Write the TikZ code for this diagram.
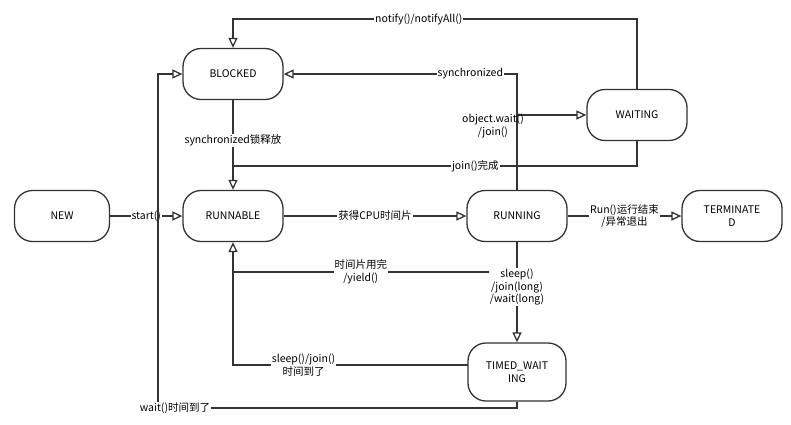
\documentclass[tikz,border=0pt]{standalone}
\usepackage{fontspec}
\setmainfont{Noto Sans CJK SC}
\usetikzlibrary{arrows.meta}
\begin{document}
\begin{tikzpicture}[x=1pt,y=-1pt,
  st/.style={draw=black!80,line width=1.3pt,rounded corners=18pt,minimum width=100pt,minimum height=51pt,align=center,font=\fontsize{10.5}{13}\selectfont,inner sep=2pt},
  ed/.style={draw=black!80,line width=1.3pt,-{Triangle[open,length=10pt,width=9pt]}},
  ln/.style={draw=black!80,line width=1.3pt},
  lb/.style={fill=white,inner sep=1pt,align=center,font=\fontsize{10.5}{12.5}\selectfont}]
\useasboundingbox (0,0) rectangle (791,424);
\node[st,minimum width=95pt] (new) at (62,216) {NEW};
\node[st] (blk) at (233,74) {BLOCKED};
\node[st] (rbl) at (233,216) {RUNNABLE};
\node[st] (run) at (517,216) {RUNNING};
\node[st] (term) at (732,216) {TERMINATE\\D};
\node[st] (wait) at (637,115) {WAITING};
\node[st,minimum width=98pt,minimum height=58pt] (tw) at (517,372) {TIMED\_WAIT\\ING};
% start
\draw[ed] (new) -- node[lb]{start()} (rbl);
% wait time up
\draw[ed] (tw.south) |- (158,408) |- (blk.west);
\node[lb] (wl) at (175,408) {wait()时间到了};
% notify
\draw[ed] (wait.north) |- node[lb,pos=0.77]{notify()/notifyAll()} (233,19) -- (blk.north);
% synchronized
\draw[ed] (run.north) |- node[lb,pos=0.6]{synchronized} (blk.east);
% object.wait
\coordinate (ow) at (517,115);
\draw[ed] (ow) -- (wait.west);
\node[lb,fill=none] (owl) at (493,126) {object.wait()\\/join()};
% lock release
\draw[ed] (blk.south) -- node[lb,pos=0.45]{synchronized锁释放} (rbl.north);
% join complete
\draw[ln] (wait.south) |- node[lb,pos=0.7]{join()完成} (233,166);
% cpu
\draw[ed] (rbl) -- node[lb]{获得CPU时间片} (run);
% terminate
\draw[ed] (run) -- node[lb]{Run()运行结束\\/异常退出} (term);
% yield
\draw[ed] (517,272) -- node[lb,pos=0.55]{时间片用完\\/yield()} (233,272) -- (rbl.south);
% sleep
\draw[ed] (run.south) -- node[lb,pos=0.45]{sleep()\\/join(long)\\/wait(long)} (tw.north);
% timed back
\coordinate (twl) at (468,365);
\draw[ln] (twl) -- node[lb,pos=0.7]{sleep()/join()\\时间到了} (233,365) -- (233,272);
\end{tikzpicture}
\end{document}
